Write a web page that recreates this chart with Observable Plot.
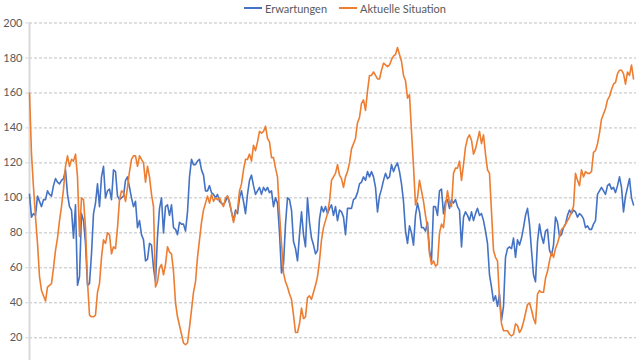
<!DOCTYPE html>
<html><head><meta charset="utf-8">
<script src="https://cdn.jsdelivr.net/npm/d3@7"></script>
<script src="https://cdn.jsdelivr.net/npm/@observablehq/plot@0.6"></script>
<style>
html,body{margin:0;padding:0;background:#fff;overflow:hidden;}
#wrap{position:relative;width:640px;height:360px;font-family:Lato,"Open Sans",sans-serif;}
#legend{height:16px;display:flex;align-items:center;font-size:11px;color:#595959;padding-left:244px;box-sizing:border-box;}
.item{display:flex;align-items:center;margin-right:12px;}
.sw{width:18px;height:2px;margin-right:3px;}
#chart svg{display:block;}
</style></head><body>
<div id="wrap"><div id="legend"></div><div id="chart"></div></div>
<script>
const seriesNames = ["Erwartungen", "Aktuelle Situation"];
const seriesColors = ["#4472C4", "#ED7D31"];
const yTicks = [20, 40, 60, 80, 100, 120, 140, 160, 180, 200];

const erwartungen = [
  102,89,91,90,101,98,95,99,99,104,
  102,101,107,111,109,108,110,111,116,102,
  95,93,77,96,50,55,91,87,74,50,
  51,68,91,97,108,95,112,118,100,104,
  105,99,116,115,101,99,100,101,110,112,
  106,100,95,98,83,87,79,76,64,65,
  74,73,60,52,78,94,100,80,95,96,
  90,96,83,82,79,86,85,85,81,92,
  112,122,119,119,121,122,116,113,104,104,
  107,103,102,100,102,98,97,96,98,101,
  97,92,87,93,91,100,104,98,91,102,
  110,113,107,102,104,106,102,106,104,106,
  103,104,95,100,97,80,57,62,85,100,
  99,93,75,71,64,79,92,79,72,100,
  86,77,73,68,70,88,95,92,95,91,
  94,96,90,95,87,93,92,89,79,94,
  94,94,99,100,103,108,109,112,110,115,
  112,115,112,106,92,101,105,110,114,111,
  112,119,115,118,120,115,108,98,81,74,
  84,80,73,90,97,92,83,83,81,86,
  70,64,95,95,90,104,105,91,98,99,
  94,99,97,99,95,93,72,89,92,90,
  87,92,87,91,94,90,91,87,81,74,
  56,49,41,44,38,45,30,38,66,71,
  72,71,77,66,76,73,77,83,90,94,
  85,70,56,52,75,85,78,74,81,82,
  70,67,73,89,86,78,79,83,85,90,
  93,91,93,92,89,91,90,88,83,84,
  82,82,85,87,102,104,106,104,102,107,
  108,105,106,103,107,112,106,92,101,106,
  111,100,96
];

const aktuelleSituation = [
  160,125,106,89,74,55,47,44,41,49,
  50,51,60,70,77,87,95,105,118,124,
  118,122,121,125,112,78,100,99,83,52,
  33,32,32,33,46,51,66,76,74,80,
  79,68,72,71,83,99,104,103,98,106,
  115,122,124,124,118,124,122,120,109,118,
  112,102,95,49,52,60,62,56,62,72,
  69,68,58,40,32,27,22,17,16,17,
  26,36,46,52,66,76,86,93,97,101,
  97,102,98,100,99,100,97,95,100,101,
  98,92,86,91,93,104,108,116,122,122,
  125,121,130,127,132,138,137,138,141,134,
  132,123,123,117,112,91,74,57,52,49,
  45,42,33,23,23,28,37,31,32,43,
  44,42,46,50,55,64,76,83,87,91,
  98,110,112,114,119,113,111,106,112,115,
  120,128,131,134,143,146,154,156,150,161,
  170,170,172,170,168,168,173,177,176,175,
  176,179,181,182,186,182,178,170,167,157,
  159,138,118,96,100,110,104,98,90,83,
  68,62,64,61,62,80,85,83,95,104,
  97,95,114,117,117,121,110,119,129,134,
  136,133,125,128,133,138,131,136,125,116,
  114,92,70,66,64,42,28,24,24,24,
  22,21,22,28,27,23,25,29,34,39,
  40,36,31,28,45,47,46,46,54,58,
  64,69,66,71,74,78,82,83,85,87,
  89,92,95,114,110,107,116,112,115,114,
  114,115,126,127,131,137,145,148,151,156,
  158,162,165,166,171,173,173,171,165,172,
  170,176,168
];

const seriesValues = [erwartungen, aktuelleSituation];

// legend
const legend = document.getElementById("legend");
seriesNames.forEach((name, k) => {
  const it = document.createElement("div");
  it.className = "item";
  const sw = document.createElement("div");
  sw.className = "sw";
  sw.style.background = seriesColors[k];
  const tx = document.createElement("span");
  tx.textContent = name;
  it.appendChild(sw); it.appendChild(tx);
  legend.appendChild(it);
});

const rows = seriesValues.map((vals, k) => vals.map((v, i) => ({i, v, s: seriesNames[k]})));
const n = erwartungen.length;

const chart = Plot.plot({
  width: 640,
  height: 344,
  marginLeft: 29,
  marginRight: 4,
  marginTop: 6.5,
  marginBottom: 0,
  style: {fontFamily: "Lato, 'Open Sans', sans-serif", fontSize: "11px", color: "#595959", background: "#fff"},
  x: {domain: [0, n + 0.5], axis: null, label: null},
  y: {domain: [7, 200], ticks: yTicks, label: null},
  color: {domain: seriesNames, range: seriesColors},
  marks: [
    Plot.gridY(yTicks, {stroke: "#bfbfbf", strokeOpacity: 1, strokeDasharray: "3,2"}),
    Plot.ruleX([0], {stroke: "#d9d9d9", strokeWidth: 2}),
    Plot.axisY(yTicks, {tickSize: 4, tickPadding: 3, stroke: "#d9d9d9", fill: "#595959", fontSize: 11, label: null, tickFormat: d => d}),
    ...rows.map(r => Plot.line(r, {x: "i", y: "v", stroke: "s", strokeWidth: 1.6, curve: "linear"}))
  ]
});
document.getElementById("chart").appendChild(chart);
</script>
</body></html>
